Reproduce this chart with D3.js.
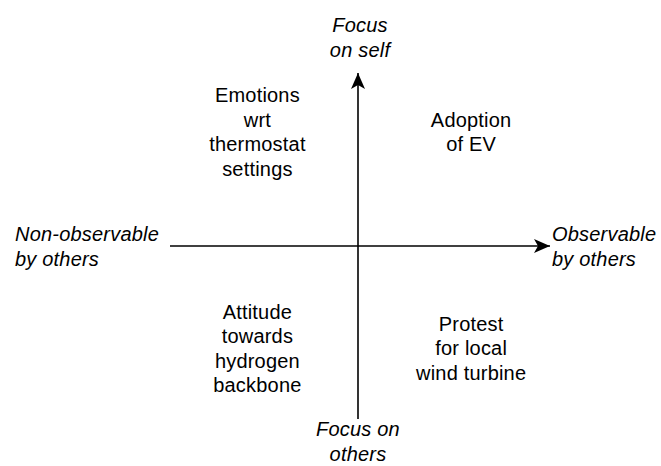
<!DOCTYPE html>
<html>
  <head>
    <meta charset="UTF-8">
    <title>Behaviour quadrants</title>
    <style>
      body { margin: 0; background: #fff; }
      text { font-family: "Liberation Sans", Arial, Helvetica, sans-serif; font-size: 20px; letter-spacing: 0.2px; fill: #000; }
    </style>
  </head>
  <body>
    <script src="https://d3js.org/d3.v7.min.js"></script>
    <svg width="661" height="466" id="quadrant"></svg>
    <script>
      // quadrant contents, (x side, y side) in axis units
      var quadrants = [
        { side: [-1, 1], lines: ["Emotions", "wrt", "thermostat", "settings"] },
        { side: [1, 1], lines: ["Adoption", "of EV"] },
        { side: [-1, -1], lines: ["Attitude", "towards", "hydrogen", "backbone"] },
        { side: [1, -1], lines: ["Protest", "for local", "wind turbine"] }
      ];
      var xAxisLabels = { neg: ["Non-observable", "by others"], pos: ["Observable", "by others"] };
      var yAxisLabels = { pos: ["Focus", "on self"], neg: ["Focus on", "others"] };

      var svg = d3.select("#quadrant");
      var lineH = 24.6;

      var x = d3.scaleLinear().domain([-1, 1]).range([170, 550]);
      var y = d3.scaleLinear().domain([-1, 1]).range([419, 73]);

      // arrowhead (notched, like a drawing tool's classic arrow)
      svg.append("defs").append("marker")
        .attr("id", "head")
        .attr("viewBox", "0 0 16 14")
        .attr("refX", 16).attr("refY", 7)
        .attr("markerWidth", 16).attr("markerHeight", 14)
        .attr("markerUnits", "userSpaceOnUse")
        .attr("orient", "auto")
        .append("path")
        .attr("d", "M0,0 L16,7 L0,14 L4,7 Z")
        .attr("fill", "#000");

      // horizontal axis
      svg.append("line")
        .attr("x1", x(-1)).attr("x2", x(1))
        .attr("y1", y(0)).attr("y2", y(0))
        .attr("stroke", "#000").attr("stroke-width", 1.6)
        .attr("marker-end", "url(#head)");

      // vertical axis
      svg.append("line")
        .attr("x1", x(0) - 2).attr("x2", x(0) - 2)
        .attr("y1", y(-1)).attr("y2", y(1))
        .attr("stroke", "#000").attr("stroke-width", 1.6)
        .attr("marker-end", "url(#head)");

      // lines of text, first baseline given
      function block(lines, cx, base, anchor, italic) {
        var t = svg.append("text")
          .attr("text-anchor", anchor)
          .style("font-style", italic ? "italic" : "normal");
        t.selectAll("tspan").data(lines).enter().append("tspan")
          .attr("x", cx)
          .attr("y", function(d, i) { return base + i * lineH; })
          .text(function(d) { return d; });
      }

      // quadrant labels
      quadrants.forEach(function(q) {
        var cx = q.side[0] < 0 ? x(-0.54) : x(0.585);
        var mid = q.side[1] > 0 ? y(0.655) : y(-0.595);
        var base = mid - (q.lines.length - 1) * lineH / 2 + 6.5;
        block(q.lines, cx, base, "middle", false);
      });

      // axis end labels
      block(xAxisLabels.neg, 15, 241, "start", true);
      block(xAxisLabels.pos, x(1) + 2, 241, "start", true);
      block(yAxisLabels.pos, x(0), 32, "middle", true);
      block(yAxisLabels.neg, x(0) - 2, 436, "middle", true);
    </script>
  </body>
</html>
